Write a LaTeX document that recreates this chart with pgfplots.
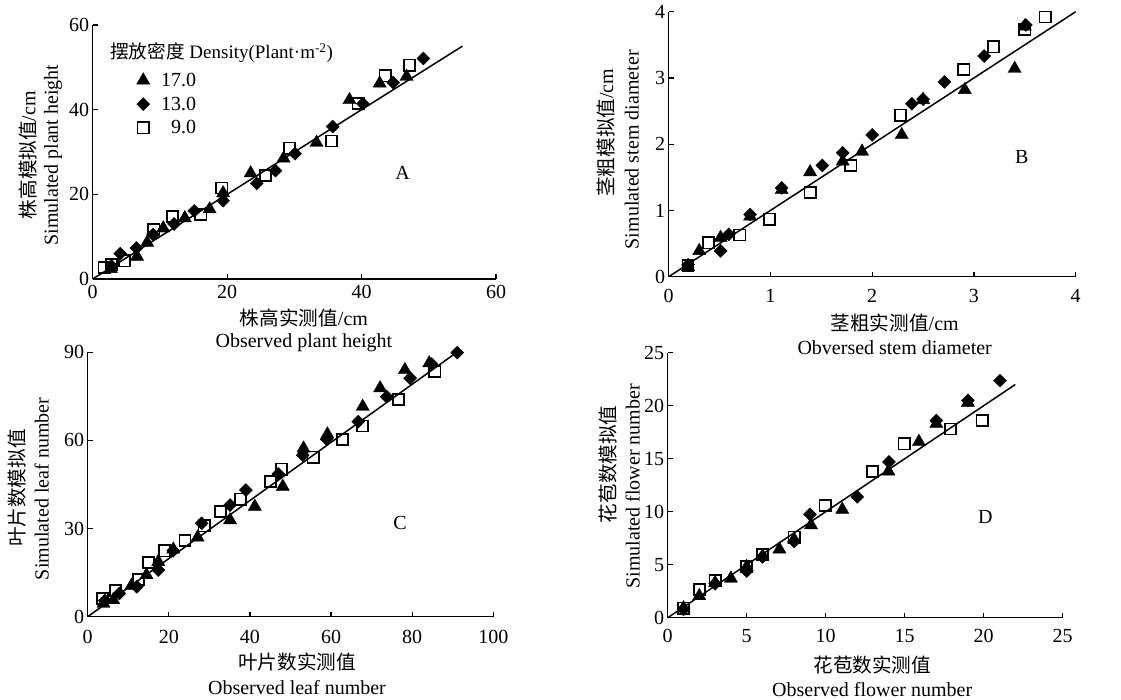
\documentclass[border=0pt]{standalone}
\usepackage{fontspec}
\setmainfont{Liberation Serif}
\newfontfamily\cjk[Scale=0.98]{Noto Sans CJK SC}
\usepackage{pgfplots}
\pgfplotsset{compat=1.18}

\pgfplotsset{
  panel/.style={
    scale only axis,
    axis lines=left,
    axis line style={-, line width=1.2pt},
    tick align=inside,
    major tick length=5pt,
    every tick/.style={black, line width=1.2pt},
    xmin=0, ymin=0,
    clip=false,
    tick label style={font=\fontsize{20}{22}\selectfont},
    /pgf/number format/assume math mode=true,
  },
  tri/.style={only marks, mark=triangle*, mark size=7.6pt,
    mark options={fill=black, draw=black, line width=0.4pt}},
  dia/.style={only marks, mark=square*, mark size=4.6pt,
    mark options={rotate=45, fill=black, draw=black, line width=0.4pt}},
  sqr/.style={only marks, mark=square, mark size=5.6pt,
    mark options={fill=white, draw=black, line width=1.7pt}},
  fit/.style={black, line width=1.5pt, no marks},
}
\tikzset{
  lab/.style={font=\fontsize{20}{22}\selectfont, inner sep=0pt},
}

\begin{document}
\begin{tikzpicture}
\path[use as bounding box] (0pt,0pt) rectangle (1121pt,-699pt);

% A: plant height
\begin{axis}[panel, at={(92.7pt,-279pt)}, anchor=south west,
  width=403.3pt, height=254pt,
  xmax=60, ymax=60, xtick={0,20,40,60}, ytick={0,20,40,60},
  xticklabel style={yshift=-3pt},
  legend style={at={(rel axis cs:0.105,0.82)}, anchor=north west,
    draw=none, fill=none, inner sep=0pt, row sep=5pt,
    font=\fontsize{20}{22}\selectfont, cells={anchor=west}},
  legend image code/.code={\path[draw=none, fill=none] (0pt,0pt) -- (24pt,0pt);
    \draw[#1] plot coordinates {(8pt,0pt)};},
]
\addplot[sqr, forget plot] coordinates {(1.7,2.75) (2.8,3.4) (4.7,4.3) (9.1,11.6) (11.85,14.8) (16.1,15.2) (19.2,21.5) (25.7,24.4) (29.25,30.9) (35.5,32.6) (39.5,41.5) (43.5,48) (47.1,50.5)};
\addplot[tri] coordinates {(2.7,2.4) (6.6,5.3) (8.1,8.6) (10.5,12) (13.7,14.4) (17.4,16.5) (19.4,20.3) (23.5,25) (28.4,28.5) (33.3,32.2) (38.2,42.3) (42.7,46.2) (46.7,47.8)};
\addlegendentry{17.0}
\addplot[dia] coordinates {(2.8,3.1) (4.1,6.0) (6.5,7.3) (9.0,10.5) (12.1,13) (15.1,16.1) (19.4,18.5) (24.4,22.6) (27.2,25.6) (30.1,29.6) (35.7,36) (40.2,41.4) (44.7,46.4) (49.2,52.1)};
\addlegendentry{13.0}
\addlegendimage{sqr}
\addlegendentry{\phantom{1}9.0}
\addplot[fit, forget plot] coordinates {(0,0) (55,55)};
\node[lab, anchor=west, font=\fontsize{19}{21}\selectfont] at (rel axis cs:0.043,0.89) {{\cjk 摆放密度} Density(Plant·m\textsuperscript{-2})};
\node[lab] at (axis cs:46.1,25) {A};
\node[lab, xshift=-64.7pt, yshift=-3pt, rotate=90] at (rel axis cs:0,0.5) {{\cjk 株高模拟值}/cm};
\node[lab, xshift=-39.7pt, yshift=-3pt, rotate=90] at (rel axis cs:0,0.5) {Simulated plant height};
\node[lab, xshift=9.6pt, yshift=-39pt] at (rel axis cs:0.5,0) {{\cjk 株高实测值}/cm};
\node[lab, xshift=9.6pt, yshift=-64pt] at (rel axis cs:0.5,0) {Observed plant height};
\end{axis}

% B: stem diameter
\begin{axis}[panel, at={(668.7pt,-276.7pt)}, anchor=south west,
  width=407pt, height=265pt,
  xmax=4, ymax=4, xtick={0,1,2,3,4}, ytick={0,1,2,3,4},
  xticklabel style={yshift=-9pt},
]
\addplot[sqr] coordinates {(0.19,0.17) (0.39,0.51) (0.70,0.63) (0.99,0.87) (1.39,1.27) (1.79,1.68) (2.28,2.44) (2.90,3.13) (3.19,3.47) (3.50,3.73) (3.70,3.92)};
\addplot[tri] coordinates {(0.19,0.15) (0.30,0.39) (0.51,0.59) (0.80,0.91) (1.11,1.31) (1.39,1.58) (1.71,1.74) (1.90,1.89) (2.29,2.14) (2.50,2.67) (2.91,2.82) (3.40,3.14) (3.50,3.78)};
\addplot[dia] coordinates {(0.19,0.18) (0.51,0.39) (0.59,0.64) (0.80,0.94) (1.11,1.34) (1.51,1.68) (1.71,1.87) (2.00,2.14) (2.39,2.61) (2.50,2.68) (2.71,2.94) (3.10,3.33) (3.51,3.80)};
\addplot[fit] coordinates {(0,0) (4,4)};
\node[lab] at (axis cs:3.47,1.8) {B};
\node[lab, xshift=-63pt, yshift=11.5pt, rotate=90] at (rel axis cs:0,0.5) {{\cjk 茎粗模拟值}/cm};
\node[lab, xshift=-37pt, yshift=-5.5pt, rotate=90] at (rel axis cs:0,0.5) {Simulated stem diameter};
\node[lab, xshift=22.5pt, yshift=-46pt] at (rel axis cs:0.5,0) {{\cjk 茎粗实测值}/cm};
\node[lab, xshift=22.5pt, yshift=-71pt] at (rel axis cs:0.5,0) {Obversed stem diameter};
\end{axis}

% C: leaf number
\begin{axis}[panel, at={(87.7pt,-616.7pt)}, anchor=south west,
  width=405.6pt, height=264.4pt,
  xmax=100, ymax=90, xtick={0,20,40,60,80,100}, ytick={0,30,60,90},
  xticklabel style={yshift=-10pt},
]
\addplot[sqr] coordinates {(3.6,6.2) (6.9,8.9) (12.5,12.7) (15.0,18.4) (18.9,22.4) (24,25.9) (28.7,30.9) (32.8,35.8) (37.7,40) (45.1,46) (47.8,50.2) (55.6,54.3) (62.8,60.4) (67.7,64.9) (76.6,74) (85.6,83.4)};
\addplot[tri] coordinates {(3.9,4.5) (6.3,5.7) (10.8,10.6) (14.5,14.2) (17.4,18.7) (21.1,22.9) (27.1,27) (35.1,32.9) (41.2,37.5) (48.1,44.3) (53.2,57.3) (59.1,62.1) (67.8,71.5) (72.1,77.8) (78.2,84) (84.2,86.3)};
\addplot[dia] coordinates {(4.2,5.5) (7.8,7.9) (12.1,10.2) (17.4,15.9) (21.1,22.5) (28.1,31.8) (35.1,38) (39,43.1) (47,48.6) (53,55) (58.9,60.4) (66.7,66.4) (73.7,74.9) (79.5,81.2) (84.8,86) (91.1,89.9)};
\addplot[fit] coordinates {(0,0) (91,90)};
\node[lab] at (axis cs:77,31.9) {C};
\node[lab, xshift=-71pt, yshift=-3.5pt, rotate=90] at (rel axis cs:0,0.5) {\cjk 叶片数模拟值};
\node[lab, xshift=-46pt, yshift=-4.5pt, rotate=90] at (rel axis cs:0,0.5) {Simulated leaf number};
\node[lab, xshift=6.5pt, yshift=-45pt] at (rel axis cs:0.5,0) {\cjk 叶片数实测值};
\node[lab, xshift=6.5pt, yshift=-71pt] at (rel axis cs:0.5,0) {Observed leaf number};
\end{axis}

% D: flower number
\begin{axis}[panel, at={(667.7pt,-617.7pt)}, anchor=south west,
  width=395pt, height=265pt,
  xmax=25, ymax=25, xtick={0,5,10,15,20,25}, ytick={0,5,10,15,20,25},
  xticklabel style={yshift=-8pt},
]
\addplot[sqr] coordinates {(1,0.9) (2,2.67) (3,3.5) (5,4.8) (6,5.97) (8,7.6) (9.96,10.57) (12.97,13.77) (14.96,16.4) (17.9,17.8) (19.9,18.6)};
\addplot[tri] coordinates {(1,0.9) (2,2.05) (3,3.3) (4,3.7) (5,4.8) (6,5.8) (7.07,6.45) (8,7.4) (9.07,8.74) (11.05,10.2) (13.97,13.8) (15.9,16.6) (17,18.3) (19,20.3)};
\addplot[dia] coordinates {(1,0.8) (3,3.2) (5,4.4) (6,5.75) (8,7.2) (9,9.75) (12,11.4) (14,14.7) (17,18.6) (19,20.5) (21.03,22.36)};
\addplot[fit] coordinates {(0,0) (22,22)};
\node[lab] at (axis cs:20.1,9.5) {D};
\node[lab, xshift=-60pt, yshift=21pt, rotate=90] at (rel axis cs:0,0.5) {\cjk 花苞数模拟值};
\node[lab, xshift=-35pt, yshift=-1pt, rotate=90] at (rel axis cs:0,0.5) {Simulated flower number};
\node[lab, xshift=7pt, yshift=-47pt] at (rel axis cs:0.5,0) {\cjk 花苞数实测值};
\node[lab, xshift=7pt, yshift=-72pt] at (rel axis cs:0.5,0) {Observed flower number};
\end{axis}
\end{tikzpicture}
\end{document}
